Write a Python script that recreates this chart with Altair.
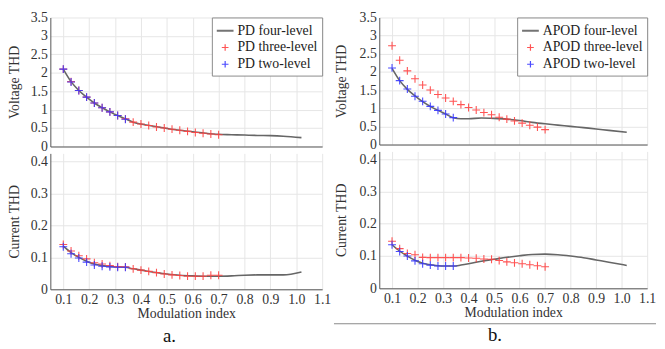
import altair as alt
import pandas as pd

# ---------------- data ----------------
x_three = [0.10, 0.13, 0.16, 0.19, 0.22, 0.25, 0.28, 0.31, 0.34, 0.37, 0.40,
           0.43, 0.46, 0.49, 0.52, 0.55, 0.58, 0.61, 0.64, 0.67, 0.70]
x_two = [0.10, 0.13, 0.16, 0.19, 0.22, 0.25, 0.28, 0.31, 0.34]
x_four = [0.10, 0.13, 0.16, 0.19, 0.22, 0.25, 0.28, 0.31, 0.34, 0.37, 0.40, 0.45,
          0.50, 0.55, 0.60, 0.65, 0.70, 0.75, 0.80, 0.85, 0.90, 0.95, 1.02]

# PD, voltage THD
pd_v_four = [2.10, 1.76, 1.52, 1.34, 1.18, 1.05, 0.94, 0.84, 0.75, 0.66, 0.61, 0.55,
             0.49, 0.44, 0.40, 0.36, 0.33, 0.32, 0.31, 0.30, 0.295, 0.28, 0.24]
pd_v_three = [2.10, 1.76, 1.52, 1.34, 1.18, 1.05, 0.94, 0.84, 0.75, 0.66, 0.61,
              0.57, 0.53, 0.50, 0.47, 0.44, 0.41, 0.38, 0.36, 0.34, 0.32]
pd_v_two = [2.10, 1.75, 1.52, 1.34, 1.18, 1.05, 0.94, 0.84, 0.74]

# APOD, voltage THD
apod_v_four = [2.10, 1.76, 1.52, 1.34, 1.18, 1.05, 0.94, 0.84, 0.74, 0.71, 0.71, 0.73,
               0.72, 0.70, 0.66, 0.61, 0.57, 0.535, 0.50, 0.465, 0.43, 0.39, 0.34]
apod_v_three = [2.72, 2.32, 2.03, 1.81, 1.64, 1.50, 1.38, 1.28, 1.19, 1.10, 1.02,
                0.95, 0.88, 0.82, 0.75, 0.70, 0.65, 0.59, 0.53, 0.48, 0.41]
apod_v_two = [2.11, 1.76, 1.53, 1.33, 1.19, 1.05, 0.94, 0.84, 0.74]

# PD, current THD
pd_c_four = [0.135, 0.115, 0.100, 0.088, 0.079, 0.074, 0.071, 0.070, 0.069, 0.064, 0.060, 0.053,
             0.048, 0.044, 0.042, 0.041, 0.041, 0.042, 0.044, 0.045, 0.045, 0.045, 0.054]
pd_c_three = [0.140, 0.120, 0.105, 0.095, 0.083, 0.079, 0.074, 0.071, 0.070, 0.064, 0.060,
              0.056, 0.052, 0.048, 0.045, 0.043, 0.041, 0.041, 0.041, 0.044, 0.044]
pd_c_two = [0.133, 0.111, 0.098, 0.085, 0.076, 0.072, 0.070, 0.069, 0.069]

# APOD, current THD
apod_c_four = [0.135, 0.115, 0.100, 0.087, 0.078, 0.073, 0.070, 0.069, 0.069, 0.072, 0.076, 0.084,
               0.090, 0.096, 0.101, 0.105, 0.106, 0.104, 0.100, 0.095, 0.088, 0.081, 0.071]
apod_c_three = [0.146, 0.123, 0.108, 0.104, 0.096, 0.095, 0.095, 0.095, 0.095, 0.095, 0.094,
                0.093, 0.091, 0.090, 0.086, 0.082, 0.079, 0.076, 0.073, 0.070, 0.067]
apod_c_two = [0.135, 0.114, 0.100, 0.085, 0.076, 0.072, 0.069, 0.069, 0.069]

x_ticks = [0.1, 0.2, 0.3, 0.4, 0.5, 0.6, 0.7, 0.8, 0.9, 1.0, 1.1]
v_ticks = [0, 0.5, 1, 1.5, 2, 2.5, 3, 3.5]
c_ticks = [0, 0.1, 0.2, 0.3, 0.4]

FONT = "Liberation Serif, Times New Roman, serif"
LINE_SHAPE = "M-1,-0.05L1,-0.05M-1,0.05L1,0.05"
PLUS_SHAPE = "M-0.4,0L0.4,0M0,-0.4L0,0.4"
COLORS = ["#666666", "#ff4242", "#3838ff"]


def panel(prefix, y4, y3, y2, ydom, yvals, ytitle, width, height, bottom,
          show_legend, y_tp, extra=None):
    names = [f"{prefix} four-level", f"{prefix} three-level", f"{prefix} two-level"]
    df_line = pd.DataFrame({"m": x_four, "v": y4})
    df_pts = pd.concat([
        pd.DataFrame({"m": x_three, "v": y3, "s": names[1]}),
        pd.DataFrame({"m": x_two, "v": y2, "s": names[2]}),
    ], ignore_index=True)
    df_pts["o"] = range(len(df_pts))

    if bottom:
        xaxis = alt.Axis(values=x_ticks, format=".1f", title="Modulation index",
                         titlePadding=1, labelOverlap=False, labelFlush=False)
    else:
        xaxis = alt.Axis(values=x_ticks, labels=False, title=None)
    xenc = alt.X("m:Q", scale=alt.Scale(domain=[0.05, 1.1], nice=False, zero=False),
                 axis=xaxis)
    yenc = alt.Y("v:Q", scale=alt.Scale(domain=ydom, nice=False),
                 axis=alt.Axis(values=yvals, format="~g", title=ytitle,
                               titlePadding=y_tp, labelOverlap=False))

    if show_legend:
        leg = alt.Legend(title=None, orient="top-right", offset=0)
    else:
        leg = None

    line = alt.Chart(df_line).mark_line(
        color="#666666", strokeWidth=1.6, interpolate="monotone"
    ).encode(x=xenc, y=yenc)

    pts = alt.Chart(df_pts).mark_point(
        filled=False, size=400, strokeWidth=1.1, opacity=0.9
    ).encode(
        x=xenc, y=yenc,
        color=alt.Color("s:N", scale=alt.Scale(domain=names, range=COLORS), legend=leg),
        shape=alt.Shape("s:N", scale=alt.Scale(domain=names,
                                               range=[LINE_SHAPE, PLUS_SHAPE, PLUS_SHAPE]),
                        legend=leg),
        order=alt.Order("o:Q"),
    )
    layers = [line, pts]
    if extra is not None:
        layers.append(extra)
    return alt.layer(*layers).properties(width=width, height=height)


sep_rule = alt.Chart(pd.DataFrame({"k": [0]})).mark_rule(
    color="#888888", strokeWidth=1
).encode(x=alt.value(-46), x2=alt.value(281), y=alt.value(175))

left = alt.vconcat(
    panel("PD", pd_v_four, pd_v_three, pd_v_two, [0, 3.5], v_ticks, "Voltage THD",
          276, 131, False, True, 8.5),
    panel("PD", pd_c_four, pd_c_three, pd_c_two, [0, 0.425], c_ticks, "Current THD",
          276, 138, True, False, 8.5),
    spacing=-1,
).resolve_scale(color="independent", shape="independent").resolve_legend(
    color="independent", shape="independent"
).properties(title=alt.TitleParams("a.", orient="bottom", offset=7))

right = alt.vconcat(
    panel("APOD", apod_v_four, apod_v_three, apod_v_two, [0, 3.5], v_ticks, "Voltage THD",
          272, 129, False, True, 11),
    panel("APOD", apod_c_four, apod_c_three, apod_c_two, [0, 0.4244], c_ticks, "Current THD",
          272, 139, True, False, 11, extra=sep_rule),
    spacing=-1,
).resolve_scale(color="independent", shape="independent").resolve_legend(
    color="independent", shape="independent"
).properties(title=alt.TitleParams("b.", orient="bottom", offset=2))

chart = alt.hconcat(left, right, spacing=2).resolve_scale(
    color="independent", shape="independent"
).resolve_legend(
    color="independent", shape="independent"
).properties(
    padding={"left": 0, "top": 0, "right": 0, "bottom": 0}
).configure_axis(
    labelFont=FONT, titleFont=FONT, labelFontSize=14, titleFontSize=14,
    titleFontWeight="normal", labelColor="#333333", titleColor="#333333",
    gridColor="#e6e6e6", gridWidth=1, domainColor="#555555", domainWidth=1,
    ticks=False, labelPadding=3,
).configure_view(stroke=None).configure_legend(
    labelFont=FONT, labelFontSize=14, labelColor="#222222",
    strokeColor="#8a8a8a", fillColor="white", padding=4, rowPadding=0,
    symbolSize=289, symbolStrokeWidth=1.2, labelOffset=3, cornerRadius=0,
).configure_title(
    font=FONT, fontSize=19, fontWeight="normal", color="#111111", anchor="middle"
)

chart.save("out.html", embed_options={"renderer": "svg", "actions": False})
